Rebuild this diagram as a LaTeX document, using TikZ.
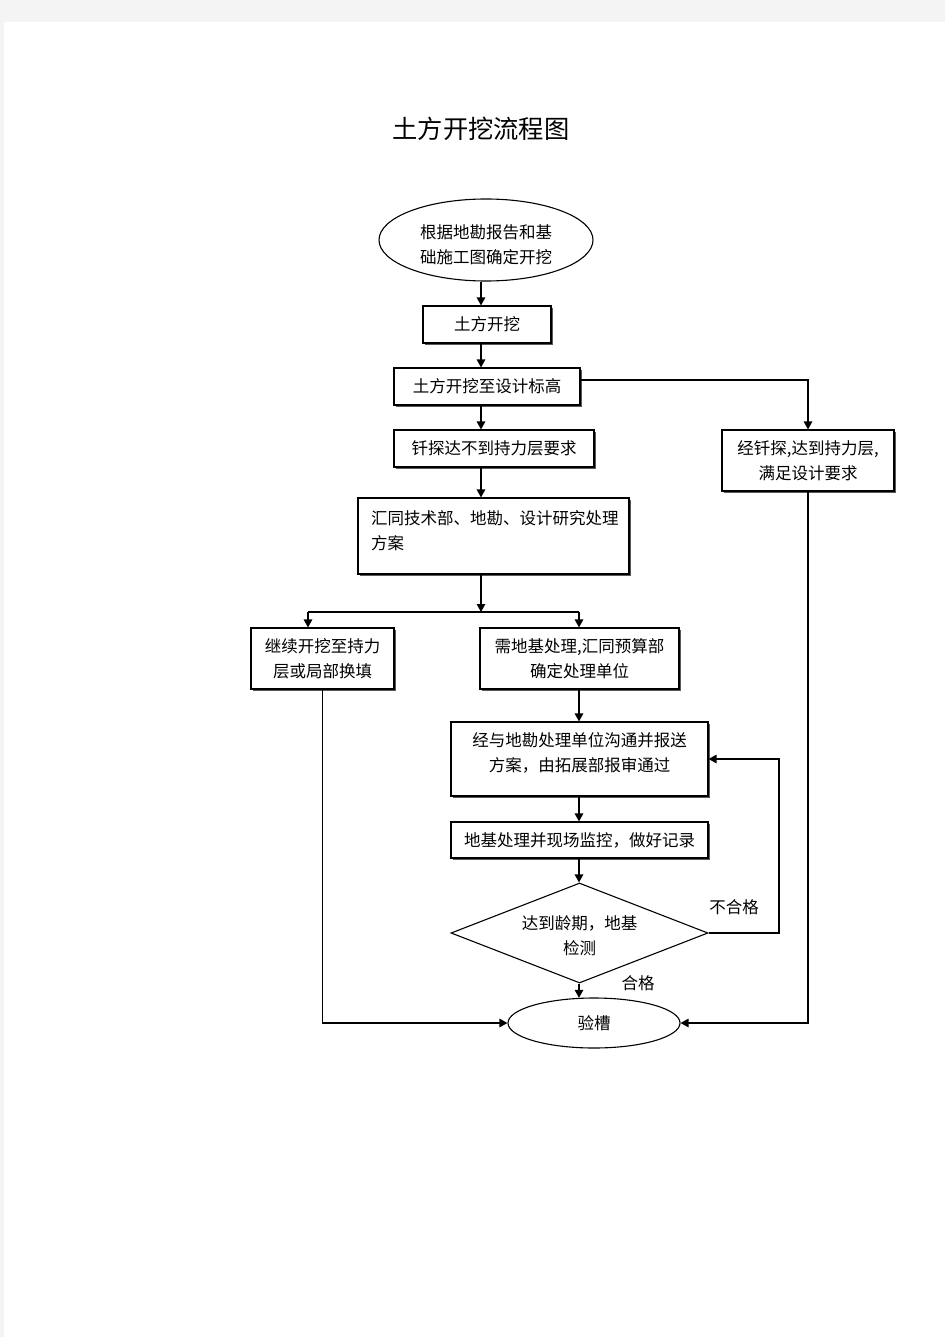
\documentclass[tikz,border=0pt]{standalone}
\usepackage{fontspec}
\setmainfont{Noto Sans CJK SC}
\usetikzlibrary{shapes.geometric,arrows.meta,shadows}
\definecolor{pagegray}{RGB}{244,244,244}
\begin{document}
\begin{tikzpicture}[x=1pt,y=-1pt,
  txt/.style={font=\fontsize{16.5}{25}\selectfont, align=center, inner sep=0pt},
  box/.style={txt, draw, line width=1.1pt, fill=white,
    drop shadow={shadow xshift=1.6pt, shadow yshift=-1.6pt, fill=black!65, opacity=1}},
  oval/.style={txt, draw, ellipse, line width=1.1pt, fill=white},
  dia/.style={txt, draw, diamond, line width=1.1pt, fill=white, aspect=2.57},
  conn/.style={line width=1.3pt},
  arr/.style={conn, -{Triangle[length=8pt,width=8.5pt]}},
  lbl/.style={font=\fontsize{16.5}{20}\selectfont, inner sep=0pt}]
\useasboundingbox (0,0) rectangle (945,1337);
\fill[pagegray] (0,0) rectangle (945,1337);
\fill[white] (4,22) rectangle (945,1337);

\node[font=\fontsize{25.3}{28}\selectfont, inner sep=0pt] (title) at (481,129) {土方开挖流程图};

\coordinate (col1) at (481,0);
\coordinate (col2) at (579,0);

\node[oval, minimum width=214pt, minimum height=82pt] (e1) at (486,240) {};
\node[txt] (e1t) at (486,245) {根据地勘报告和基\\础施工图确定开挖};
\node[box, minimum width=128pt, minimum height=37pt] (b1) at (487,324.5) {土方开挖};
\node[box, minimum width=186pt, minimum height=37pt] (b2) at (487,386.5) {土方开挖至设计标高};
\node[box, minimum width=200pt, minimum height=37pt] (b3) at (494,448.5) {钎探达不到持力层要求};
\node[box, minimum width=172pt, minimum height=61pt] (b4) at (808,460.5) {经钎探,达到持力层,\\满足设计要求};
\node[box, minimum width=271pt, minimum height=76pt] (b5) at (493.5,536) {};
\node[txt, anchor=north west, align=left] (b5t) at (371,510) {汇同技术部、地勘、设计研究处理\\方案};
\node[box, minimum width=143pt, minimum height=61pt] (b6) at (322.5,658.5) {继续开挖至持力\\层或局部换填};
\node[box, minimum width=199pt, minimum height=61pt] (b7) at (579.5,658.5) {需地基处理,汇同预算部\\确定处理单位};
\node[box, minimum width=257pt, minimum height=74pt] (b8) at (579.5,759) {};
\node[txt] (b8t) at (579.5,753) {经与地勘处理单位沟通并报送\\方案，由拓展部报审通过};
\node[box, minimum width=257pt, minimum height=36pt] (b9) at (579.5,840) {地基处理并现场监控，做好记录};
\node[dia, minimum width=257pt, minimum height=100pt] (d) at (579.5,933) {};
\node[txt] (dt) at (579.5,935.5) {达到龄期，地基\\检测};
\node[oval, minimum width=172pt, minimum height=50pt] (e2) at (594,1023) {验槽};

\node[lbl] (ng) at (734,907) {不合格};
\node[lbl] (ok) at (638,983) {合格};

% main column
\draw[arr] (e1.south -| col1) -- (b1.north -| col1);
\draw[arr] (b1.south -| col1) -- (b2.north -| col1);
\draw[arr] (b2.south -| col1) -- (b3.north -| col1);
\draw[arr] (b3.south -| col1) -- (b5.north -| col1);
\draw[arr] ([yshift=6.5pt]b2.east) -| (b4.north);

% split
\coordinate (sp) at (481,612);
\coordinate (spL) at (308,612);
\coordinate (spR) at (579,612);
\draw[arr] (b5.south -| sp) -- (sp);
\draw[conn] (spL) -- (spR);
\draw[arr] (spL) -- (spL |- b6.north);
\draw[arr] (spR) -- (spR |- b7.north);

% lower column
\draw[arr] (b7.south -| col2) -- (b8.north -| col2);
\draw[arr] (b8.south -| col2) -- (b9.north -| col2);
\draw[arr] (b9.south -| col2) -- (d.north -| col2);
\draw[arr] (d.south -| col2) -- ([yshift=-0.4pt]e2.north -| col2);

% feedback
\coordinate (fb) at (779,933);
\draw[arr] (d.east) -- (fb) |- (b8.east);

% to final
\draw[arr] (b6.south) |- (e2.west);
\draw[arr] (b4.south) |- (e2.east);
\end{tikzpicture}
\end{document}
